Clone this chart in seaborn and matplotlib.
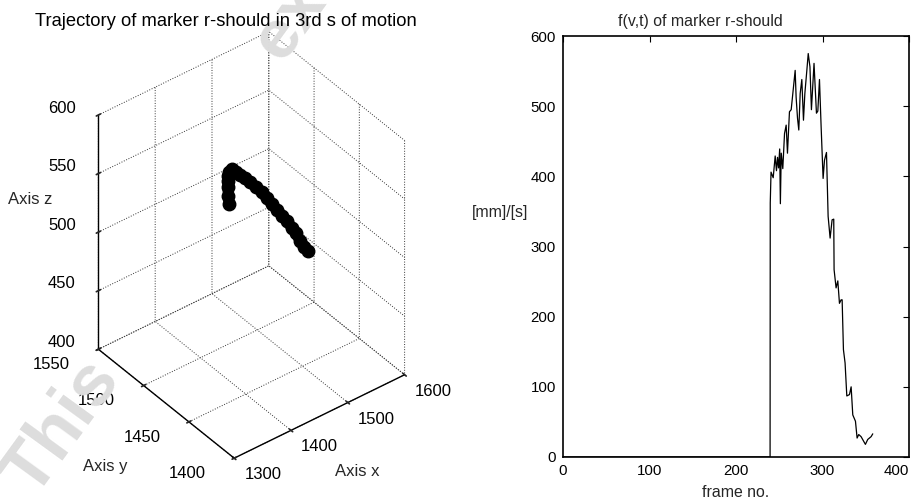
import numpy as np
import pandas as pd
import matplotlib
matplotlib.use("Agg")
import matplotlib.pyplot as plt
import seaborn as sns
from mpl_toolkits.mplot3d import proj3d

# --- speed of marker r-should per frame ---
frame_no = [0, 239.4, 239.6, 240.5, 243, 245.3, 246.8, 248, 249.2, 250.5,
            251.3, 252.3, 254.1, 256.1, 258, 259.5, 261.8, 263.8, 268.4,
            269.5, 271.1, 272.6, 274.2, 276.1, 278, 279.6, 281.9, 283.5,
            285.5, 287.2, 290.2, 293, 294.6, 296.5, 298.4, 300.7, 302.3,
            304.6, 306.5, 308.8, 311.1, 313, 313.4, 315.7, 317.7, 319.6,
            321.5, 322.7, 324.2, 326.1, 328.1, 331.2, 333.1, 335, 338.1,
            340, 341.9, 344.6, 349.6, 352.3, 356.2, 358.1]
speed_mm_s = [0, 0, 362, 406, 398, 429, 408, 427, 412, 439,
              361, 433, 411, 461, 473, 433, 492, 495, 551,
              513, 483, 466, 518, 538, 480, 518, 551, 575,
              556, 495, 561, 490, 493, 538, 471, 397, 423,
              434, 343, 312, 338, 339, 267, 241, 251, 219,
              224, 224, 153, 134, 87, 89, 100, 60, 51,
              27, 32, 29, 18, 25, 29, 33]

# --- 3D trajectory of the marker during the 3rd second ---
traj_x = [1402.5, 1401.5, 1400.7, 1401.5, 1402.3, 1405, 1410.9, 1418, 1426.6,
          1436, 1445.8, 1457, 1468.5, 1478, 1487.7, 1497, 1507, 1516,
          1526.2, 1534, 1541.8, 1550, 1557.5]
traj_y = [1470, 1470, 1470, 1470.5, 1471, 1471.5, 1472, 1472.5, 1473,
          1473.5, 1474, 1474.5, 1475, 1475.5, 1476, 1476.5, 1477, 1477.5,
          1478, 1478.5, 1479, 1479.5, 1480]
traj_z = [549, 556, 564, 569, 573, 575, 575.7, 571, 566.2,
          561, 555.1, 548, 540.4, 533, 525, 518, 510.3, 503,
          494.8, 488, 479.3, 472, 466.4]

x_ticks = [1300, 1400, 1500, 1600]
y_ticks = [1400, 1450, 1500, 1550]
z_ticks = [400, 450, 500, 550, 600]
frame_ticks = [0, 100, 200, 300, 400]
speed_ticks = [0, 100, 200, 300, 400, 500, 600]

sns.set_theme(style="white")
plt.rcParams["font.family"] = ["Liberation Sans", "DejaVu Sans"]
plt.rcParams["grid.linestyle"] = ":"
plt.rcParams["grid.color"] = "#333333"
plt.rcParams["grid.linewidth"] = 0.7
plt.rcParams["axes.edgecolor"] = "black"

fig = plt.figure(figsize=(9.18, 5.01), dpi=100)
W, H = 918.0, 501.0

# faint watermark letters behind the plots
fig.text(62 / W, 1 - 428 / H, "This", fontsize=52, color="#dddddd",
         rotation=54, ha="center", va="center", fontweight="bold",
         zorder=0)
fig.text(290 / W, 1 - 22 / H, "ex", fontsize=50, color="#dddddd",
         rotation=54, ha="center", va="center", fontweight="bold",
         zorder=0)

# ---------------- left: 3D trajectory ----------------
ax3 = fig.add_axes([0.0399, 0.0439, 0.4558, 0.9121], projection="3d")
ax3.patch.set_alpha(0)
ax3.set_proj_type("ortho")
ax3.view_init(elev=38.8, azim=-128)
ax3.set_box_aspect((1, 1.02, 1.39))
ax3.plot(traj_x, traj_y, traj_z, color="black", lw=8, marker="o", ms=9,
         solid_capstyle="round", solid_joinstyle="round")
ax3.set_xlim(x_ticks[0], x_ticks[-1])
ax3.set_ylim(y_ticks[0], y_ticks[-1])
ax3.set_zlim(z_ticks[0], z_ticks[-1])
ax3.set_xticks(x_ticks)
ax3.set_yticks(y_ticks)
ax3.set_zticks(z_ticks)
ax3.set_xticklabels([])
ax3.set_yticklabels([])
ax3.set_zticklabels([])
ax3.grid(True)
for axis in (ax3.xaxis, ax3.yaxis, ax3.zaxis):
    axis.set_pane_color((1, 1, 1, 0))
    axis.pane.set_edgecolor((1, 1, 1, 0))
    axis.line.set_color("black")
    axis.line.set_linewidth(1.0)
    axis._axinfo["tick"]["inward_factor"] = 0.15
    axis._axinfo["tick"]["outward_factor"] = 0.15
    axis._axinfo["grid"]["color"] = "#333333"
    axis._axinfo["grid"]["linestyle"] = ":"
    axis._axinfo["grid"]["linewidth"] = 0.7

# tick labels just outside the box edges: project the 3D anchor points
# onto the axes' 2D plane and write them there
fig.canvas.draw()
M = ax3.get_proj()
x0, y0, y1, z0 = x_ticks[0], y_ticks[0], y_ticks[-1], z_ticks[0]
anchors = ([(xv, y0 - 31.6, z0 + 5.4, xv) for xv in x_ticks]
           + [(x0 - 83, yv, z0 + 6.6, yv) for yv in y_ticks]
           + [(x0 - 30.3, y1 + 21.2, zv, zv) for zv in z_ticks])
for ax_, ay_, az_, lab in anchors:
    px, py, _ = proj3d.proj_transform(ax_, ay_, az_, M)
    ax3.text2D(px, py, str(lab), transform=ax3.transData, fontsize=12,
               ha="center", va="center", color="black")

fig.text(226 / W, 1 - 25.5 / H, "Trajectory of marker r-should in 3rd s of motion",
         fontsize=13.2, ha="center", va="baseline", color="black")
fig.text(30 / W, 1 - 199 / H, "Axis z", fontsize=12, ha="center", va="center")
fig.text(105 / W, 1 - 466 / H, "Axis y", fontsize=12, ha="center", va="center")
fig.text(357 / W, 1 - 472 / H, "Axis x", fontsize=12, ha="center", va="center")

# ---------------- right: speed over frames ----------------
ax2 = fig.add_axes([563 / W, 1 - 457 / H, 346 / W, 421 / H])
speed_df = pd.DataFrame({"frame": frame_no, "speed": speed_mm_s})
sns.lineplot(data=speed_df, x="frame", y="speed", ax=ax2, color="black",
             lw=0.9, sort=False, estimator=None)
ax2.set_xlim(frame_ticks[0], frame_ticks[-1])
ax2.set_ylim(speed_ticks[0], speed_ticks[-1])
ax2.set_xticks(frame_ticks)
ax2.set_yticks(speed_ticks)
for s in ax2.spines.values():
    s.set_visible(True)
    s.set_color("black")
    s.set_linewidth(1.2)
ax2.tick_params(direction="in", top=True, right=True, length=4, width=0.8,
                labelsize=10.8, colors="black", pad=5)
ax2.get_xticklabels()[-1].set_ha("right")
ax2.set_xlabel("frame no.", fontsize=11.4, labelpad=5)
ax2.set_ylabel("[mm]/[s]", fontsize=11.4, rotation=0, ha="center", va="center")
ax2.yaxis.set_label_coords((500 - 563) / 346, (457 - 213) / 421)
ax2.set_title("f(v,t) of marker r-should", fontsize=11.4, x=(700 - 563) / 346,
              y=1.0, pad=7)

fig.savefig("out.png", dpi=100)
